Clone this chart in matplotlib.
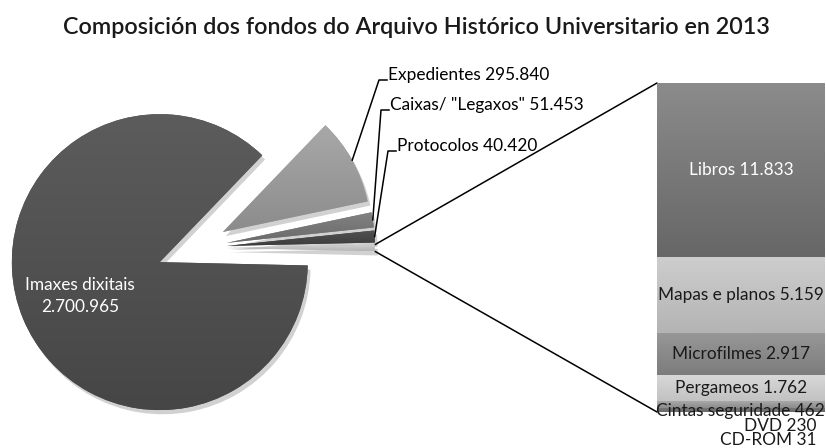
# Composición dos fondos do Arquivo Histórico Universitario en 2013 (pie of bar)
import numpy as np
import matplotlib.pyplot as plt
import matplotlib.patheffects as pe
from matplotlib.patches import ConnectionPatch

plt.rcParams['font.family'] = ['Lato', 'DejaVu Sans']

# pie part (counterclockwise from the right: "outros" first)
pie_labels = ['Outros', 'Protocolos', 'Caixas/ "Legaxos"', 'Expedientes', 'Imaxes dixitais']
pie_main = [40420, 51453, 295840, 2700965]

# bar part, bottom to top
bar_labels = ['CD-ROM', 'DVD', 'Cintas seguridade', 'Pergameos', 'Microfilmes',
              'Mapas e planos', 'Libros']
bar_values = [31, 230, 462, 1762, 2917, 5159, 11833]

other = sum(bar_values)
pie_values = [other] + pie_main
total = sum(pie_values)


def fmt(v):
    return f"{v:,}".replace(',', '.')


pie_cols = [('#d2d2d2', '#b4b4b4'), ('#525252', '#3c3c3c'), ('#828282', '#6a6a6a'),
            ('#a8a8a8', '#8c8c8c'), ('#5c5c5c', '#464646')]
bar_cols = [('#c8c8c8', '#b8b8b8'), ('#767676', '#6a6a6a'), ('#a8a8a8', '#8c8c8c'),
            ('#d8d8d8', '#c2c2c2'), ('#989898', '#7c7c7c'), ('#cdcdcd', '#b4b4b4'),
            ('#8b8b8b', '#676767')]


def gradient_fill(ax, patch, ctop, cbot):
    bb = patch.get_path().transformed(patch.get_patch_transform()).get_extents()
    c1 = np.array(plt.matplotlib.colors.to_rgb(ctop))
    c2 = np.array(plt.matplotlib.colors.to_rgb(cbot))
    t = np.linspace(0, 1, 64)[:, None]
    img = (c1 * (1 - t) + c2 * t)[:, None, :]
    im = ax.imshow(img, extent=(bb.x0, bb.x1, bb.y0, bb.y1), origin='upper',
                   aspect='auto', interpolation='bilinear', zorder=patch.get_zorder() + 0.1)
    im.set_clip_path(patch)


fig = plt.figure(figsize=(8.26, 4.48), dpi=100)
ax = fig.add_axes([0, 0, 1, 1])
ax.set_zorder(2)  # texts of this axes go over the bar

start = -360 * other / total / 2
explode = [33, 33, 33, 33, 37]  # offsets in pixels (axes data = pixels)
wedges, _ = ax.pie(pie_values, explode=explode, startangle=start, counterclock=True,
                   center=(194, 200), radius=148, frame=True,
                   colors=[c[0] for c in pie_cols],
                   wedgeprops=dict(linewidth=0))
for w, (ct, cb) in zip(wedges, pie_cols):
    w.set_path_effects([pe.SimplePatchShadow(offset=(2, -3), shadow_rgbFace='k', alpha=0.18),
                        pe.Normal()])
    gradient_fill(ax, w, ct, cb)

ax.set_xlim(0, 826)
ax.set_ylim(0, 448)
ax.set_aspect('auto')
ax.axis('off')

fs = 12.4

# inside label of the big slice
ax.text(80, 448 - 285, pie_labels[4], color='white', fontsize=fs, ha='center', va='center', zorder=5)
ax.text(80, 448 - 307, fmt(pie_values[4]), color='white', fontsize=fs, ha='center', va='center', zorder=5)

# outside labels with leader lines
label_pos = {3: (388, 448 - 80), 2: (390, 448 - 110), 1: (397, 448 - 151)}
for i, (tx, ty) in label_pos.items():
    w = wedges[i]
    mid = np.deg2rad((w.theta1 + w.theta2) / 2)
    px = w.center[0] + w.r * np.cos(mid)
    py = w.center[1] + w.r * np.sin(mid)
    ax.plot([px, tx - 9, tx - 1], [py, ty, ty], color='black', lw=1.1)
    ax.text(tx, ty + 5, f"{pie_labels[i]} {fmt(pie_values[i])}", fontsize=fs,
            ha='left', va='center', color='black')

# stacked bar
ax2 = fig.add_axes([657 / 826, 36 / 448, 168 / 826, 329 / 448])
ax2.set_zorder(1)
bottoms = np.concatenate([[0], np.cumsum(bar_values)[:-1]])
bars = ax2.bar(0, bar_values, bottom=bottoms, width=1, color=[c[0] for c in bar_cols],
               edgecolor='#d9d9d9', linewidth=0.8)
for b, (ct, cb) in zip(bars, bar_cols):
    b.set_path_effects([pe.SimplePatchShadow(offset=(2, -3), shadow_rgbFace='k', alpha=0.18),
                        pe.Normal()])
    gradient_fill(ax2, b, ct, cb)
ax2.set_xlim(-0.5, 0.5)
ax2.set_ylim(0, other)
ax2.axis('off')

# labels inside the bar for the larger segments
for i in range(3, 7):
    col = 'white' if i == 6 else '#1a1a1a'
    ax2.text(0, bottoms[i] + bar_values[i] / 2, f"{bar_labels[i]} {fmt(bar_values[i])}",
             color=col, fontsize=fs, ha='center', va='center')

# small segments labelled at the foot of the bar
ax.text(740, 448 - 411, f"{bar_labels[2]} {fmt(bar_values[2])}", fontsize=fs,
        ha='center', va='center', color='#1a1a1a', zorder=5)
for i, ty in [(1, 448 - 426), (0, 448 - 440)]:
    ax.text(817, ty, f"{bar_labels[i]} {fmt(bar_values[i])}", fontsize=fs,
            ha='right', va='center', color='#1a1a1a', zorder=5)

# connectors from the "outros" slice to the bar
w = wedges[0]
for ang, yb in [(w.theta2, other), (w.theta1, 0)]:
    a = np.deg2rad(ang)
    pa = (w.center[0] + w.r * np.cos(a), w.center[1] + w.r * np.sin(a))
    con = ConnectionPatch(xyA=pa, coordsA=ax.transData, xyB=(-0.5, yb), coordsB=ax2.transData,
                          color='black', lw=1.1)
    fig.add_artist(con)

fig.text(416 / 826, 1 - 27 / 448, 'Composición dos fondos do Arquivo Histórico Universitario en 2013',
         ha='center', va='center', fontsize=16.8, color='#1a1a1a', fontweight='semibold')

fig.savefig('out.png', dpi=100)
